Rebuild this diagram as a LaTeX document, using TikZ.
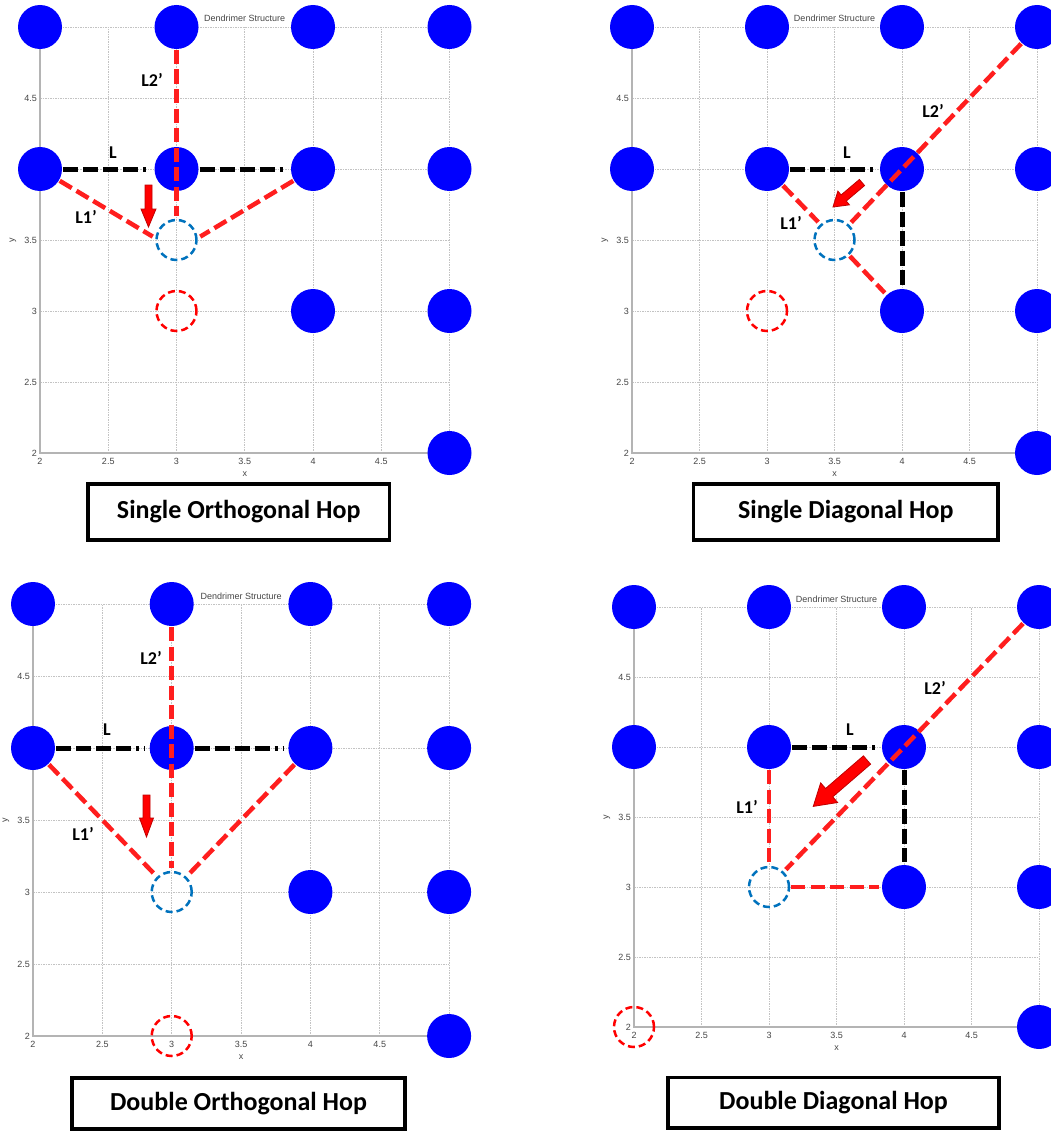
\documentclass[tikz,border=0pt]{standalone}
\usepackage{fontspec}
\newfontfamily\labfont{Carlito}
\newfontfamily\axfont{Liberation Sans}
\definecolor{atomblue}{RGB}{0,0,255}
\definecolor{vacblue}{RGB}{0,114,189}
\definecolor{hopred}{RGB}{255,30,30}
\definecolor{gridgray}{RGB}{195,195,195}
\definecolor{axisgray}{RGB}{180,180,180}
\definecolor{ticktext}{RGB}{70,70,70}
\definecolor{arrowedge}{RGB}{192,0,0}
\tikzset{
 atom/.style={circle, fill=atomblue, minimum size=44pt, inner sep=0pt, outer sep=0pt},
 vacnew/.style={circle, draw=vacblue, line width=2.5pt, dash pattern=on 7pt off 4pt, minimum size=40pt, inner sep=0pt},
 vacold/.style={circle, draw=red, line width=2.5pt, dash pattern=on 7pt off 4pt, minimum size=40pt, inner sep=0pt},
 gridl/.style={draw=gridgray, line width=0.8pt, dash pattern=on 1.5pt off 1pt},
 axisl/.style={draw=axisgray, line width=1.8pt},
 tick/.style={font=\axfont\fontsize{9}{9}\selectfont, text=ticktext, inner sep=1pt},
 bond/.style={draw=black, line width=5pt, dash pattern=on 15pt off 5pt on 15pt off 5pt on 15pt off 5pt on 15pt off 5pt on 3pt off 5pt, shorten <=1pt, shorten >=5pt},
 bondv/.style={draw=black, line width=5pt, dash pattern=on 15pt off 4.5pt, shorten <=1pt, shorten >=3pt},
 hop/.style={draw=hopred, line width=4.5pt, dash pattern=on 14pt off 5.5pt, shorten <=1pt, shorten >=3pt},
 lbl/.style={font=\labfont\bfseries\fontsize{18}{18}\selectfont, inner sep=0pt},
 titlebox/.style={draw=black, line width=3.5pt, font=\labfont\bfseries\fontsize{26}{26}\selectfont, inner sep=0pt},
 arrowfill/.style={fill=red, draw=arrowedge, line width=0.8pt, line join=miter},
}
\newcommand\panelbase[1]{%
  \foreach \g in {2,2.5,3,3.5,4,4.5,5} {
    \draw[gridl] (\g,2) -- (\g,5);
    \draw[gridl] (2,\g) -- (5,\g);
  }
  \draw[axisl] (2,5) -- (2,2) -- (5,2);
  \foreach \t [count=\i] in {2,2.5,3,3.5,4,4.5,5} {
    \node[tick, anchor=east] (#1-yt\i) at ([xshift=-2pt]2,\t) {\t};
    \node[tick, anchor=north] (#1-xt\i) at ([yshift=-4pt]\t,2) {\t};
  }
  \node[tick] (#1-xl) at ([yshift=-21pt]3.5,2) {x};
  \node[tick, rotate=90] (#1-yl) at ([xshift=-27pt]2,3.5) {y};
  \node[tick, anchor=base] (#1-title) at ([yshift=5pt]3.5,5) {Dendrimer Structure};
  \foreach \X/\Y in {2/5,3/5,4/5,5/5,2/4,3/4,4/4,5/4,4/3,5/3,5/2}
    \node[atom] (#1-\X-\Y) at (\X,\Y) {};
}
\newcommand\blockarrow[7]{%
  \begin{scope}[shift={(#1,#2)}, rotate=#3]
    \filldraw[arrowfill] (0,-#5) -- (#4-#7,-#5) -- (#4-#7,-#6) -- (#4,0)
      -- (#4-#7,#6) -- (#4-#7,#5) -- (0,#5) -- cycle;
  \end{scope}}
\begin{document}
\begin{tikzpicture}[x=1pt,y=1pt]
\useasboundingbox[fill=white] (0,0) rectangle (1050,-1132);

% ---------- Panel 1: Single Orthogonal Hop ----------
\begin{scope}[shift={(40,-453)}, x=136.5pt, y=142pt, shift={(-2,-2)}]
  \panelbase{a}
  \node[vacnew] (a-v) at (3,3.5) {};
  \node[vacold] (a-o) at (3,3) {};
  \draw[bond] (a-2-4) -- (a-3-4);
  \draw[bond] (a-3-4) -- (a-4-4);
  \draw[hop] (a-3-5) -- (a-v);
  \draw[hop] (a-2-4) -- (a-v.175);
  \draw[hop] (a-4-4) -- (a-v.5);
\end{scope}
\blockarrow{148.5}{-185}{-90}{42}{3.5}{7.5}{18}
\node[lbl] (a-L) at (113,-153) {L};
\node[lbl] (a-L1) at (86,-217) {L1’};
\node[lbl] (a-L2) at (152,-80) {L2’};
\node[titlebox, minimum width=301.5pt, minimum height=56pt] (a-box) at (238.75,-512) {Single Orthogonal Hop};

% ---------- Panel 2: Single Diagonal Hop ----------
\begin{scope}[shift={(632,-453)}, x=135pt, y=142pt, shift={(-2,-2)}]
  \panelbase{b}
  \node[vacnew] (b-v) at (3.5,3.5) {};
  \node[vacold] (b-o) at (3,3) {};
  \draw[bond] (b-3-4) -- (b-4-4);
  \draw[bondv] (b-4-4) -- (b-4-3);
  \draw[hop] (b-3-4) -- (b-v.132);
  \draw[hop] (b-v) -- (b-4-3);
  \draw[hop] (b-5-5) -- (b-v);
\end{scope}
\blockarrow{862}{-182.5}{220.2}{38}{4}{9}{14}
\node[lbl] (b-L) at (847,-153) {L};
\node[lbl] (b-L1) at (791,-223) {L1’};
\node[lbl] (b-L2) at (933,-111) {L2’};
\node[titlebox, minimum width=304.5pt, minimum height=56pt] (b-box) at (845.75,-512) {Single Diagonal Hop};

% ---------- Panel 3: Double Orthogonal Hop ----------
\begin{scope}[shift={(33,-1036)}, x=138.7pt, y=144pt, shift={(-2,-2)}]
  \panelbase{c}
  \node[vacnew] (c-v) at (3,3) {};
  \node[vacold] (c-o) at (3,2) {};
  \draw[bond] (c-2-4) -- (c-3-4);
  \draw[bond] (c-3-4) -- (c-4-4);
  \draw[hop] (c-3-5) -- (c-v);
  \draw[hop] (c-2-4) -- (c-v);
  \draw[hop] (c-4-4) -- (c-v);
\end{scope}
\blockarrow{146.5}{-795}{-90}{42}{3.5}{7}{19}
\node[lbl] (c-L) at (107,-730) {L};
\node[lbl] (c-L1) at (83,-834) {L1’};
\node[lbl] (c-L2) at (151,-658) {L2’};
\node[titlebox, minimum width=333pt, minimum height=51pt] (c-box) at (238.5,-1103.5) {Double Orthogonal Hop};

% ---------- Panel 4: Double Diagonal Hop ----------
\begin{scope}[shift={(634,-1027)}, x=135pt, y=140pt, shift={(-2,-2)}]
  \panelbase{d}
  \node[vacnew] (d-v) at (3,3) {};
  \node[vacold] (d-o) at (2,2) {};
  \draw[bond] (d-3-4) -- (d-4-4);
  \draw[bondv] (d-4-4) -- (d-4-3);
  \draw[hop] (d-3-4) -- (d-v);
  \draw[hop] (d-v) -- (d-4-3);
  \draw[hop] (d-5-5) -- (d-v);
\end{scope}
\blockarrow{867}{-760}{220.8}{71}{5.5}{13}{21}
\node[lbl] (d-L) at (850,-730) {L};
\node[lbl] (d-L1) at (747,-807) {L1’};
\node[lbl] (d-L2) at (935,-688) {L2’};
\node[titlebox, minimum width=331pt, minimum height=50.5pt] (d-box) at (833.5,-1102.75) {Double Diagonal Hop};
\end{tikzpicture}
\end{document}
